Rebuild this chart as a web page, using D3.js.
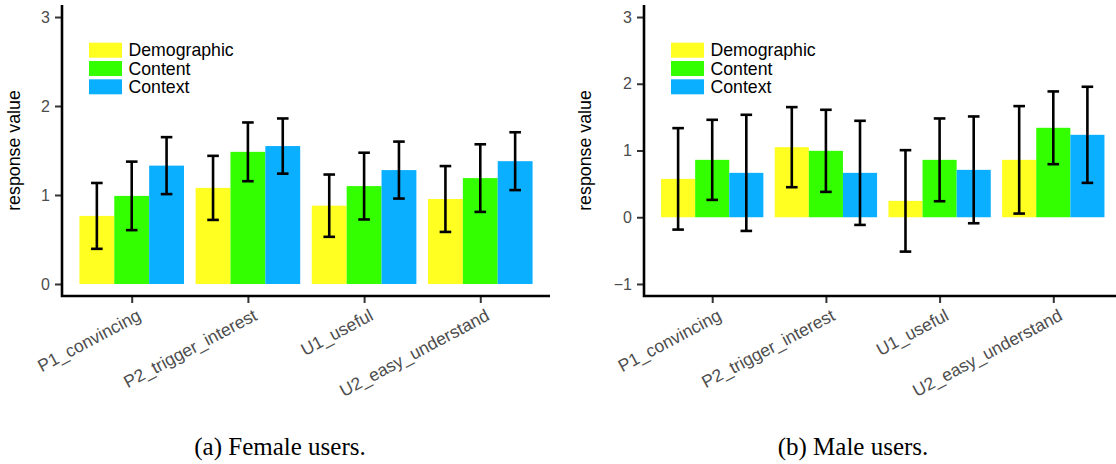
<!DOCTYPE html>
<html>
<head>
<meta charset="utf-8">
<script src="https://cdn.jsdelivr.net/npm/d3@7"></script>
<style>
  body { margin: 0; background: #fff; }
  svg { display: block; }
</style>
</head>
<body>
<svg id="fig" width="1116" height="464"></svg>
<script>
// Survey questions and recommendation explanation conditions
const questions = ["P1_convincing", "P2_trigger_interest", "U1_useful", "U2_easy_understand"];
const conditions = ["Demographic", "Content", "Context"];
const conditionColors = ["#FFFF22", "#33FF00", "#0BAFFF"];

// Female users: mean response and error half-width per question
const femaleDemographic = [0.765, 1.08, 0.88, 0.955];
const femaleContent     = [0.99, 1.485, 1.10, 1.19];
const femaleContext     = [1.33, 1.55, 1.28, 1.38];
const femaleDemographicErr = [0.37, 0.36, 0.35, 0.37];
const femaleContentErr     = [0.385, 0.33, 0.375, 0.38];
const femaleContextErr     = [0.32, 0.31, 0.32, 0.325];

// Male users: mean response and error half-width per question
const maleDemographic = [0.575, 1.05, 0.245, 0.86];
const maleContent     = [0.86, 0.995, 0.86, 1.34];
const maleContext     = [0.665, 0.665, 0.71, 1.235];
const maleDemographicErr = [0.76, 0.60, 0.76, 0.805];
const maleContentErr     = [0.60, 0.615, 0.62, 0.545];
const maleContextErr     = [0.87, 0.78, 0.80, 0.72];

// Axis limits and tick labels
const femaleLimits = [0, 3];
const maleLimits = [-1, 3];
const femaleTicks = [0, 1, 2, 3];
const maleTicks = [-1, 0, 1, 2, 3];

const captions = ["(a) Female users.", "(b) Male users."];

function buildRows(means, errs) {
  const rows = [];
  questions.forEach((q, qi) => {
    conditions.forEach((c, ci) => {
      rows.push({ question: q, condition: c, ci, mean: means[ci][qi], err: errs[ci][qi] });
    });
  });
  return rows;
}

const panels = [
  {
    rows: buildRows([femaleDemographic, femaleContent, femaleContext],
                    [femaleDemographicErr, femaleContentErr, femaleContextErr]),
    limits: femaleLimits, ticks: femaleTicks, caption: captions[0],
    left: 62, right: 550, captionX: 280, titleX: 20
  },
  {
    rows: buildRows([maleDemographic, maleContent, maleContext],
                    [maleDemographicErr, maleContentErr, maleContextErr]),
    limits: maleLimits, ticks: maleTicks, caption: captions[1],
    left: 644, right: 1121.5, captionX: 853, titleX: 590.5
  }
];

const svg = d3.select("#fig");
const panelTop = 5, panelBottom = 296;
const sans = "'Liberation Sans', Arial, Helvetica, sans-serif";
const fmt = v => (v < 0 ? "\u2212" + Math.abs(v) : String(v));

panels.forEach(p => {
  const g = svg.append("g");

  // continuous y scale with a small expansion around the limits
  const span = p.limits[1] - p.limits[0];
  const pad = span * 0.045;
  const y = d3.scaleLinear()
    .domain([p.limits[0] - pad, p.limits[1] + pad])
    .range([panelBottom, panelTop]);

  // discrete x scale: question centres, bars dodged within 90% of a step
  const x = d3.scalePoint().domain(questions).range([p.left, p.right]).padding(0.6);
  const step = x.step();
  const barW = step * 0.9 / conditions.length;

  // bars
  g.selectAll("rect.bar").data(p.rows).enter().append("rect")
    .attr("class", "bar")
    .attr("x", d => x(d.question) - step * 0.45 + d.ci * barW)
    .attr("width", barW)
    .attr("y", d => Math.min(y(d.mean), y(0)))
    .attr("height", d => Math.abs(y(0) - y(d.mean)))
    .attr("fill", d => conditionColors[d.ci]);

  // error bars
  const eb = g.selectAll("g.err").data(p.rows).enter().append("g")
    .attr("class", "err")
    .attr("transform", d => `translate(${x(d.question) - step * 0.45 + (d.ci + 0.5) * barW},0)`)
    .attr("stroke", "#000").attr("stroke-width", 2.6);
  eb.append("line").attr("x1", 0).attr("x2", 0)
    .attr("y1", d => y(d.mean + d.err)).attr("y2", d => y(d.mean - d.err));
  eb.append("line").attr("x1", -5.8).attr("x2", 5.8)
    .attr("y1", d => y(d.mean + d.err)).attr("y2", d => y(d.mean + d.err));
  eb.append("line").attr("x1", -5.8).attr("x2", 5.8)
    .attr("y1", d => y(d.mean - d.err)).attr("y2", d => y(d.mean - d.err));

  // y axis
  const yAxis = g.append("g").attr("transform", `translate(${p.left},0)`)
    .call(d3.axisLeft(y).tickValues(p.ticks).tickFormat(fmt).tickSize(7).tickPadding(5));
  yAxis.select(".domain").remove();
  yAxis.selectAll(".tick line").attr("stroke", "#333").attr("stroke-width", 2);
  yAxis.selectAll(".tick text").attr("fill", "#4D4D4D")
    .style("font-family", sans).style("font-size", "16px");

  // x axis
  const xAxis = g.append("g").attr("transform", `translate(0,${panelBottom})`)
    .call(d3.axisBottom(x).tickSize(7).tickPadding(0));
  xAxis.select(".domain").remove();
  xAxis.selectAll(".tick line").attr("stroke", "#333").attr("stroke-width", 2);
  xAxis.selectAll(".tick text")
    .attr("fill", "#4D4D4D")
    .style("font-family", sans).style("font-size", "17.5px")
    .attr("text-anchor", "end")
    .attr("y", 0).attr("dy", "0.72em")
    .attr("transform", "translate(4,12) rotate(-28)");

  // axis lines
  g.append("path")
    .attr("d", `M${p.left},${panelTop}V${panelBottom}H${p.right}`)
    .attr("fill", "none").attr("stroke", "#000").attr("stroke-width", 2.6)
    .attr("stroke-linejoin", "miter");

  // y axis title
  g.append("text")
    .attr("transform", `translate(${p.titleX},${(panelTop + panelBottom) / 2}) rotate(-90)`)
    .attr("text-anchor", "middle")
    .style("font-family", sans).style("font-size", "17.8px")
    .attr("fill", "#000")
    .text("response value");

  // legend inside the panel
  const leg = g.append("g").attr("transform", `translate(${p.left + 27},42.7)`);
  conditions.forEach((c, i) => {
    leg.append("rect").attr("x", 0).attr("y", i * 18.3).attr("width", 33).attr("height", 15)
      .attr("fill", conditionColors[i]);
    leg.append("text").attr("x", 39.5).attr("y", i * 18.3 + 13.7)
      .style("font-family", sans).style("font-size", "17.7px").attr("fill", "#000")
      .text(c);
  });

  // sub-figure caption
  svg.append("text")
    .attr("x", p.captionX).attr("y", 455)
    .attr("text-anchor", "middle")
    .style("font-family", "'Liberation Serif', 'Times New Roman', serif")
    .style("font-size", "25px").attr("fill", "#000")
    .text(p.caption);
});
</script>
</body>
</html>
